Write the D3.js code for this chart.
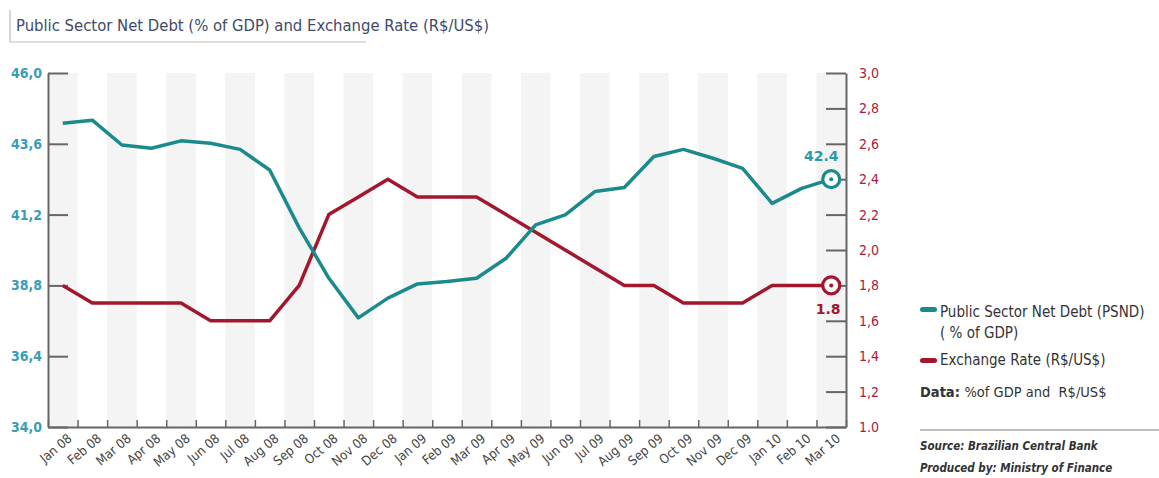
<!DOCTYPE html>
<html><head><meta charset="utf-8">
<script src="https://cdn.jsdelivr.net/npm/d3@7"></script>
<style>
body{margin:0;background:#fff;}
text{font-family:"Liberation Sans Narrow","DejaVu Sans Condensed","Arial Narrow",sans-serif;}
</style></head>
<body><svg id="c" width="1159" height="478"></svg>
<script>
const months = ["Jan 08","Feb 08","Mar 08","Apr 08","May 08","Jun 08","Jul 08","Aug 08","Sep 08","Oct 08","Nov 08","Dec 08",
"Jan 09","Feb 09","Mar 09","Apr 09","May 09","Jun 09","Jul 09","Aug 09","Sep 09","Oct 09","Nov 09","Dec 09","Jan 10","Feb 10","Mar 10"];
const psnd = [44.3,44.4,43.56,43.45,43.7,43.62,43.41,42.71,40.75,39.05,37.7,38.37,38.85,38.93,39.04,39.72,40.85,41.19,41.98,42.12,43.17,43.41,43.11,42.77,41.58,42.09,42.4];
const fx = [1.8,1.7,1.7,1.7,1.7,1.6,1.6,1.6,1.8,2.2,2.3,2.4,2.3,2.3,2.3,2.2,2.1,2.0,1.9,1.8,1.8,1.7,1.7,1.7,1.8,1.8,1.8];
const leftTicks = [34.0,36.4,38.8,41.2,43.6,46.0];
const leftTickLabels = ["34,0","36,4","38,8","41,2","43,6","46,0"];
const rightTicks = [1.0,1.2,1.4,1.6,1.8,2.0,2.2,2.4,2.6,2.8,3.0];
const rightTickLabels = ["1.0","1,2","1,4","1,6","1,8","2,0","2,2","2,4","2,6","2,8","3,0"];

const teal = "#1a8a8c", red = "#a3172c";
const FF = "'Liberation Sans Narrow','DejaVu Sans Condensed',sans-serif";
const svg = d3.select("#c");
const L = 48, R = 846, T = 73, B = 427;
const x = d3.scaleBand().domain(months).range([L, R]);
const bw = x.bandwidth();
const cx = m => x(m) + bw/2;
const yL = d3.scaleLinear().domain([34,46]).range([B,T]);
const yR = d3.scaleLinear().domain([1,3]).range([B,T]);

// title
svg.append("path").attr("d","M10,10V42H366").attr("fill","none").attr("stroke","#bbb").attr("stroke-width",1.2);
svg.append("text").attr("x",16).attr("y",31).attr("font-size",16.5).attr("fill","#414a68")
  .text("Public Sector Net Debt (% of GDP) and Exchange Rate (R$/US$)");

// bands
svg.append("g").selectAll("rect").data(months.filter((d,i)=>i%2===0)).join("rect")
  .attr("x",d=>x(d)).attr("y",T).attr("width",bw).attr("height",B-T).attr("fill","#f4f4f4");

// left axis
const gl = svg.append("g").attr("transform",`translate(${L},0)`)
  .call(d3.axisLeft(yL).tickValues(leftTicks).tickFormat((d,i)=>leftTickLabels[i]).tickSizeInner(-20).tickSizeOuter(0).tickPadding(6));
gl.select(".domain").attr("stroke","#666").attr("stroke-width",2);
gl.selectAll(".tick line").attr("stroke","#666").attr("stroke-width",2);
gl.selectAll(".tick text").attr("fill","#3a9db5").attr("font-size",14).attr("font-weight","bold").style("font-family",FF);

// right axis
const gr = svg.append("g").attr("transform",`translate(${R},0)`)
  .call(d3.axisRight(yR).tickValues(rightTicks).tickFormat((d,i)=>rightTickLabels[i]).tickSizeInner(-20).tickSizeOuter(0).tickPadding(13));
gr.select(".domain").attr("stroke","#666").attr("stroke-width",2);
gr.selectAll(".tick line").attr("stroke","#666").attr("stroke-width",2);
gr.selectAll(".tick text").attr("fill","#a8203a").attr("font-size",14).style("font-family",FF);

// bottom axis: boundary ticks
const xb = d3.scaleLinear().domain([0, months.length]).range([L, R]);
const gb = svg.append("g").attr("transform",`translate(0,${B})`)
  .call(d3.axisBottom(xb).tickValues(d3.range(0, months.length+1)).tickFormat("").tickSizeInner(-7).tickSizeOuter(0));
gb.select(".domain").attr("stroke","#666").attr("stroke-width",2);
gb.selectAll(".tick line").attr("stroke","#666").attr("stroke-width",1.5);
// labels
const gx = svg.append("g").attr("transform",`translate(0,${B})`)
  .call(d3.axisBottom(x).tickSize(0));
gx.select(".domain").remove();
gx.selectAll(".tick text").attr("y",0).attr("dy",0).attr("text-anchor","end")
  .attr("transform","translate(10,13) rotate(-40)").attr("fill","#444").attr("font-size",13)
  .style("font-family",FF);

// lines
svg.append("path").datum(months).attr("fill","none").attr("stroke",red).attr("stroke-width",3.5).attr("stroke-linejoin","round")
  .attr("d", d3.line().x(d=>cx(d)).y((d,i)=>yR(fx[i])));
svg.append("path").datum(months).attr("fill","none").attr("stroke",teal).attr("stroke-width",3.5).attr("stroke-linejoin","round")
  .attr("d", d3.line().x(d=>cx(d)).y((d,i)=>yL(psnd[i])));

// end markers
const last = months.length-1;
function marker(xv, yv, col){
  svg.append("circle").attr("cx",xv).attr("cy",yv).attr("r",8.5).attr("fill","#fff").attr("stroke",col).attr("stroke-width",3.2);
  svg.append("circle").attr("cx",xv).attr("cy",yv).attr("r",2).attr("fill",col);
}
marker(cx(months[last]), yL(psnd[last]), teal);
marker(cx(months[last]), yR(fx[last]), red);
svg.append("text").attr("x",cx(months[last])-10).attr("y",yL(psnd[last])-18).attr("text-anchor","middle")
  .attr("font-size",14).attr("font-weight","bold").attr("fill","#2a9aa8").style("font-family","'DejaVu Sans',sans-serif")
  .text(psnd[last].toFixed(1));
svg.append("text").attr("x",cx(months[last])-3).attr("y",yR(fx[last])+29).attr("text-anchor","middle")
  .attr("font-size",14).attr("font-weight","bold").attr("fill","#a3172c").style("font-family","'DejaVu Sans',sans-serif")
  .text(fx[last].toFixed(1));

// legend
const lg = svg.append("g");
lg.append("rect").attr("x",920).attr("y",307).attr("width",17).attr("height",5).attr("rx",2.5).attr("fill",teal);
lg.append("text").attr("x",940).attr("y",317).attr("font-size",15).attr("fill","#333").text("Public Sector Net Debt (PSND)");
lg.append("text").attr("x",940).attr("y",338).attr("font-size",15).attr("fill","#333").text("( % of GDP)");
lg.append("rect").attr("x",920).attr("y",358).attr("width",17).attr("height",5).attr("rx",2.5).attr("fill",red);
lg.append("text").attr("x",940).attr("y",365).attr("font-size",15).attr("fill","#333").text("Exchange Rate (R$/US$)");
const dt = lg.append("text").attr("x",920).attr("y",397).attr("font-size",14.5).attr("fill","#333").attr("xml:space","preserve");
dt.append("tspan").attr("font-weight","bold").text("Data: ");
dt.append("tspan").text("%of GDP and  R$/US$");
lg.append("line").attr("x1",920).attr("x2",1159).attr("y1",430).attr("y2",430).attr("stroke","#aaa").attr("stroke-width",1.5);
lg.append("text").attr("x",920).attr("y",450).attr("font-size",11.5).attr("font-style","italic").attr("font-weight","bold").attr("fill","#333").text("Source: Brazilian Central Bank");
lg.append("text").attr("x",920).attr("y",472).attr("font-size",11.5).attr("font-style","italic").attr("font-weight","bold").attr("fill","#333").text("Produced by: Ministry of Finance");
</script></body></html>
